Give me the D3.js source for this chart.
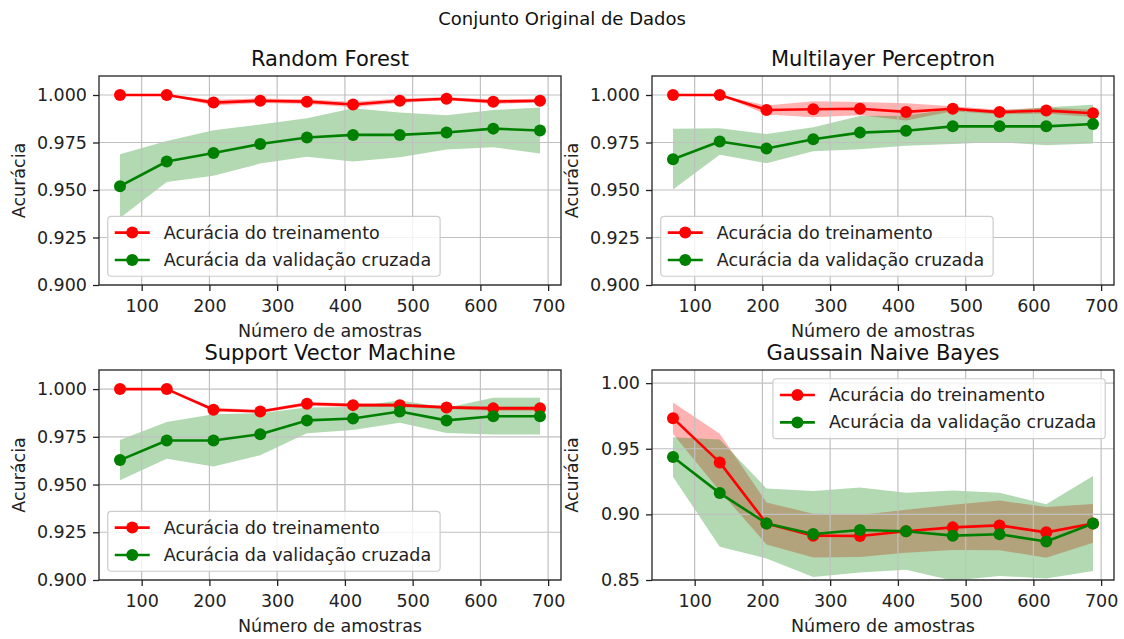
<!DOCTYPE html>
<html>
<head>
<meta charset="utf-8">
<script src="https://cdn.jsdelivr.net/npm/d3@7"></script>
<style>
  html, body { margin: 0; padding: 0; background: #fff; }
  svg { display: block; font-family: "DejaVu Sans", sans-serif; }
</style>
</head>
<body>
<svg id="chart" width="1124" height="639"></svg>
<script>
// ---------------- DATA ----------------
const suptitle = "Conjunto Original de Dados";
const xLabel = "Número de amostras";
const yLabel = "Acurácia";
const seriesNames = ["Acurácia do treinamento", "Acurácia da validação cruzada"];
const trainSizes = [68, 137, 206, 275, 344, 412, 481, 550, 619, 688];
const xTicks = [100, 200, 300, 400, 500, 600, 700];

const modelTitles = ["Random Forest", "Multilayer Perceptron", "Support Vector Machine", "Gaussain Naive Bayes"];

const rfTrainMean = [1.000, 1.000, 0.996, 0.997, 0.9965, 0.995, 0.997, 0.998, 0.9965, 0.997];
const rfTrainStd  = [0.000, 0.000, 0.0015, 0.0012, 0.0012, 0.0015, 0.0012, 0.0008, 0.0012, 0.0010];
const rfValMean   = [0.952, 0.965, 0.9695, 0.9742, 0.9776, 0.979, 0.979, 0.9803, 0.9823, 0.9813];
const rfValStd    = [0.0168, 0.0108, 0.012, 0.0103, 0.0101, 0.014, 0.0118, 0.009, 0.0098, 0.0121];

const mlpTrainMean = [1.000, 1.000, 0.9921, 0.9925, 0.9928, 0.9911, 0.9928, 0.991, 0.9918, 0.9904];
const mlpTrainStd  = [0.000, 0.000, 0.0024, 0.0042, 0.0035, 0.0045, 0.0013, 0.0013, 0.0015, 0.0020];
const mlpValMean   = [0.9662, 0.9755, 0.9718, 0.9767, 0.9802, 0.9812, 0.9835, 0.9835, 0.9835, 0.9847];
const mlpValStd    = [0.016, 0.007, 0.0077, 0.0063, 0.0088, 0.0079, 0.0093, 0.0083, 0.010, 0.0102];

const svmTrainMean = [1.000, 1.000, 0.9892, 0.9883, 0.9923, 0.9916, 0.9916, 0.9904, 0.9899, 0.9899];
const svmTrainStd  = [0.000, 0.000, 0.0010, 0.0008, 0.0010, 0.0010, 0.0010, 0.0008, 0.0012, 0.0012];
const svmValMean   = [0.9628, 0.9731, 0.9731, 0.9764, 0.9836, 0.9846, 0.9883, 0.9836, 0.9858, 0.9858];
const svmValStd    = [0.0105, 0.0096, 0.0137, 0.011, 0.0067, 0.006, 0.0059, 0.0066, 0.0096, 0.0096];

const gnbTrainMean = [0.9733, 0.9396, 0.8931, 0.8838, 0.8835, 0.8871, 0.8901, 0.8916, 0.8863, 0.8931];
const gnbTrainStd  = [0.012, 0.0218, 0.016, 0.0167, 0.016, 0.0164, 0.0172, 0.0189, 0.0193, 0.0148];
const gnbValMean   = [0.9437, 0.9162, 0.8931, 0.885, 0.8881, 0.8871, 0.8838, 0.8848, 0.8794, 0.8931];
const gnbValStd    = [0.015, 0.0409, 0.0267, 0.0328, 0.0324, 0.0293, 0.0343, 0.0317, 0.0283, 0.0362];

const yTicksFine = [0.900, 0.925, 0.950, 0.975, 1.000];
const yTicksCoarse = [0.85, 0.90, 0.95, 1.00];
const yDomainFine = [0.9, 1.01];
const yDomainCoarse = [0.85, 1.01];

// ---------------- LAYOUT / STYLE ----------------
const FS = 17.5, TFS = 21;
const colTrain = "#ff0000", colVal = "#008000";
const cols = [{x0: 99, x1: 561}, {x0: 652, x1: 1114}];
const rows = [{y0: 76, y1: 285}, {y0: 370, y1: 580}];

const panels = [
  {title: modelTitles[0], tr: rfTrainMean, trs: rfTrainStd, va: rfValMean, vas: rfValStd, yd: yDomainFine, yt: yTicksFine, fmt: ".3f", loc: "ll", c: 0, r: 0},
  {title: modelTitles[1], tr: mlpTrainMean, trs: mlpTrainStd, va: mlpValMean, vas: mlpValStd, yd: yDomainFine, yt: yTicksFine, fmt: ".3f", loc: "ll", c: 1, r: 0},
  {title: modelTitles[2], tr: svmTrainMean, trs: svmTrainStd, va: svmValMean, vas: svmValStd, yd: yDomainFine, yt: yTicksFine, fmt: ".3f", loc: "ll", c: 0, r: 1},
  {title: modelTitles[3], tr: gnbTrainMean, trs: gnbTrainStd, va: gnbValMean, vas: gnbValStd, yd: yDomainCoarse, yt: yTicksCoarse, fmt: ".2f", loc: "ur", c: 1, r: 1}
];

const svg = d3.select("#chart");
const defs = svg.append("defs");

svg.append("text")
  .attr("x", 562).attr("y", 25)
  .attr("text-anchor", "middle")
  .attr("font-size", 18).attr("fill", "#111")
  .text(suptitle);

const xMin = d3.min(trainSizes), xMax = d3.max(trainSizes);
const xPad = (xMax - xMin) * 0.05;

panels.forEach((p, i) => {
  const {x0, x1} = cols[p.c];
  const {y0, y1} = rows[p.r];
  const x = d3.scaleLinear().domain([xMin - xPad, xMax + xPad]).range([x0, x1]);
  const y = d3.scaleLinear().domain(p.yd).range([y1, y0]);

  const clipId = "clip" + i;
  defs.append("clipPath").attr("id", clipId)
    .append("rect").attr("x", x0).attr("y", y0).attr("width", x1 - x0).attr("height", y1 - y0);

  const g = svg.append("g");

  // fills
  const area = (m, s) => d3.area()
    .x((d, k) => x(trainSizes[k]))
    .y0((d, k) => y(m[k] - s[k]))
    .y1((d, k) => y(m[k] + s[k]))(m);
  const fills = g.append("g").attr("clip-path", `url(#${clipId})`);
  fills.append("path").attr("d", area(p.tr, p.trs)).attr("fill", colTrain).attr("fill-opacity", 0.3);
  fills.append("path").attr("d", area(p.va, p.vas)).attr("fill", colVal).attr("fill-opacity", 0.3);

  // grid
  const grid = g.append("g");
  xTicks.forEach(t => grid.append("line")
    .attr("x1", x(t)).attr("x2", x(t)).attr("y1", y0).attr("y2", y1)
    .attr("stroke", "#c0c0c0").attr("stroke-width", 1.2));
  p.yt.forEach(t => grid.append("line")
    .attr("x1", x0).attr("x2", x1).attr("y1", y(t)).attr("y2", y(t))
    .attr("stroke", "#c0c0c0").attr("stroke-width", 1.2));

  // lines + markers
  const line = d3.line().x((d, k) => x(trainSizes[k])).y(d => y(d));
  const lg = g.append("g").attr("clip-path", `url(#${clipId})`);
  [[p.tr, colTrain], [p.va, colVal]].forEach(([m, col]) => {
    lg.append("path").attr("d", line(m)).attr("fill", "none")
      .attr("stroke", col).attr("stroke-width", 2.6).attr("stroke-linejoin", "round");
    lg.selectAll(null).data(m).enter().append("circle")
      .attr("cx", (d, k) => x(trainSizes[k])).attr("cy", d => y(d))
      .attr("r", 6).attr("fill", col);
  });

  // spines
  g.append("rect").attr("x", x0).attr("y", y0).attr("width", x1 - x0).attr("height", y1 - y0)
    .attr("fill", "none").attr("stroke", "#222").attr("stroke-width", 1.3);

  // axes
  const xa = g.append("g").attr("transform", `translate(0,${y1})`)
    .call(d3.axisBottom(x).tickValues(xTicks).tickSize(6).tickPadding(9).tickFormat(d3.format("d")));
  const ya = g.append("g").attr("transform", `translate(${x0},0)`)
    .call(d3.axisLeft(y).tickValues(p.yt).tickSize(6).tickPadding(6).tickFormat(d3.format(p.fmt)));
  [xa, ya].forEach(a => {
    a.select(".domain").remove();
    a.selectAll(".tick line").attr("stroke", "#222").attr("stroke-width", 1.3);
    a.selectAll(".tick text").attr("font-size", FS).attr("fill", "#222")
      .attr("font-family", "DejaVu Sans, sans-serif");
  });

  // labels
  g.append("text").attr("x", (x0 + x1) / 2).attr("y", y1 + 52)
    .attr("text-anchor", "middle").attr("font-size", FS).attr("fill", "#222").text(xLabel);
  g.append("text").attr("transform", `translate(${x0 - 74},${(y0 + y1) / 2}) rotate(-90)`)
    .attr("text-anchor", "middle").attr("font-size", FS).attr("fill", "#222").text(yLabel);
  g.append("text").attr("x", (x0 + x1) / 2).attr("y", y0 - 10.5)
    .attr("text-anchor", "middle").attr("font-size", TFS).attr("fill", "#111").text(p.title);

  // legend
  const bp = 7, hl = 35, htp = 14, bap = 8.75, rowH = 18.6, ls = 8.75;
  const leg = g.append("g");
  const frame = leg.append("rect");
  const texts = seriesNames.map(n => leg.append("text").attr("font-size", FS).attr("fill", "#222").text(n));
  const tw = d3.max(texts, t => t.node().getComputedTextLength());
  const lw = bp * 2 + hl + htp + tw + 2;
  const lh = bp * 2 + rowH * 2 + ls;
  let lx, ly;
  if (p.loc === "ll") { lx = x0 + bap; ly = y1 - bap - lh; }
  else { lx = x1 - bap - lw; ly = y0 + bap; }
  frame.attr("x", lx).attr("y", ly).attr("width", lw).attr("height", lh)
    .attr("rx", 3.5).attr("fill", "#fff").attr("fill-opacity", 0.8)
    .attr("stroke", "#cccccc").attr("stroke-width", 1.2);
  [colTrain, colVal].forEach((col, k) => {
    const cy = ly + bp + rowH / 2 + k * (rowH + ls);
    leg.append("line").attr("x1", lx + bp).attr("x2", lx + bp + hl).attr("y1", cy).attr("y2", cy)
      .attr("stroke", col).attr("stroke-width", 2.6);
    leg.append("circle").attr("cx", lx + bp + hl / 2).attr("cy", cy).attr("r", 6).attr("fill", col);
    texts[k].attr("x", lx + bp + hl + htp).attr("y", cy).attr("dominant-baseline", "central");
  });
});
</script>
</body>
</html>
